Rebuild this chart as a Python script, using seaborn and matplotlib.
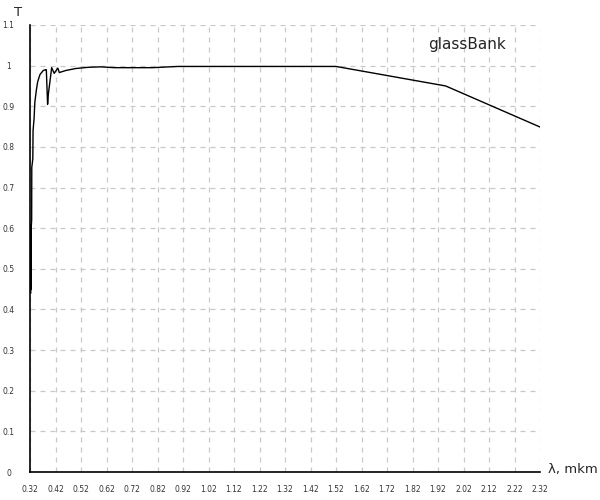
import numpy as np
import pandas as pd
import matplotlib
matplotlib.use('Agg')
import matplotlib.pyplot as plt
import seaborn as sns

# Spectral transmittance
wavelength = [0.323, 0.3235, 0.324, 0.3245, 0.3265, 0.327, 0.331, 0.332, 0.336,
              0.339, 0.345, 0.350, 0.359, 0.372, 0.381, 0.384, 0.389, 0.392,
              0.405, 0.415, 0.429, 0.435, 0.46, 0.50, 0.55, 0.60, 0.65, 0.70,
              0.80, 0.90, 1.00, 1.20, 1.52, 1.95, 2.32]
transmittance = [0.44, 0.61, 0.45, 0.60, 0.62, 0.75, 0.77, 0.84, 0.87,
                 0.91, 0.94, 0.96, 0.978, 0.988, 0.99, 0.99, 0.905, 0.93,
                 0.995, 0.981, 0.994, 0.983, 0.988, 0.993, 0.996, 0.997, 0.995, 0.995,
                 0.995, 0.998, 0.998, 0.998, 0.998, 0.950, 0.849]

x_ticks = [0.32, 0.42, 0.52, 0.62, 0.72, 0.82, 0.92, 1.02, 1.12, 1.22, 1.32,
           1.42, 1.52, 1.62, 1.72, 1.82, 1.92, 2.02, 2.12, 2.22, 2.32]
y_ticks = [0, 0.1, 0.2, 0.3, 0.4, 0.5, 0.6, 0.7, 0.8, 0.9, 1, 1.1]
y_labels = ['0', '0.1', '0.2', '0.3', '0.4', '0.5', '0.6', '0.7', '0.8', '0.9', '1', '1.1']

df = pd.DataFrame({'wavelength': wavelength, 'T': transmittance})

sns.set_style('white')
plt.rcParams['font.family'] = ['DejaVu Sans']

fig = plt.figure(figsize=(6, 5), dpi=100)
ax = fig.add_axes([0.05, 0.056, 0.85, 0.894])

sns.lineplot(data=df, x='wavelength', y='T', sort=False, estimator=None,
             color='black', linewidth=1.0, ax=ax)

ax.set_xlim(0.32, 2.32)
ax.set_ylim(0, 1.1)
ax.set_xticks(x_ticks)
ax.set_xticklabels([f'{v:.2f}' for v in x_ticks], fontsize=5.5, color='#333333')
ax.set_yticks(y_ticks)
ax.set_yticklabels(y_labels, fontsize=5.5, color='#333333', ha='center')
ax.tick_params(axis='x', direction='inout', length=5, width=0.8, pad=7)
ax.tick_params(axis='y', direction='inout', length=5, width=0.8, pad=13)

ax.grid(True, color='#c8c8c8', linestyle=(0, (4, 4)), linewidth=0.9)
for side in ['top', 'right']:
    ax.spines[side].set_visible(False)
for side in ['left', 'bottom']:
    ax.spines[side].set_color('black')
    ax.spines[side].set_linewidth(1.2)

ax.set_xlabel('')
ax.set_ylabel('')
fig.text(18 / 600, 1 - 12 / 500, 'T', fontsize=9.5, ha='center', va='center')
fig.text(548 / 600, 1 - 470 / 500, 'λ, mkm', fontsize=9.5, ha='left', va='center')
ax.text(2.034, 1.051, 'glassBank', fontsize=11, ha='center', va='center')

fig.savefig('out.png', dpi=100)
